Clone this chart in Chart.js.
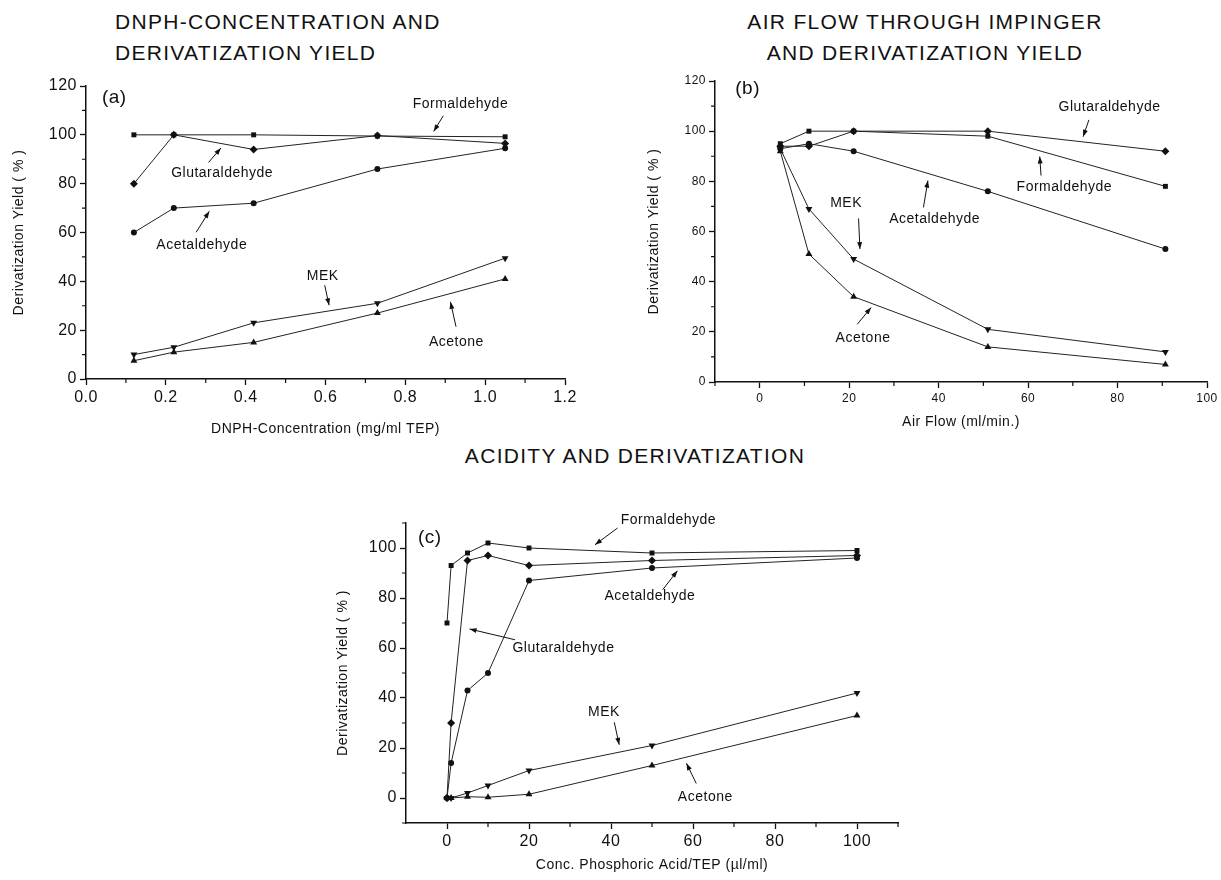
<!DOCTYPE html>
<html>
<head>
<meta charset="utf-8">
<script src="https://cdn.jsdelivr.net/npm/chart.js@4.4.0/dist/chart.umd.min.js"></script>
<style>
body{margin:0;background:#fff;width:1221px;height:880px;position:relative;overflow:hidden;
  font-family:"Liberation Sans",Arial,Helvetica,sans-serif;color:#111}
.box{position:absolute}
.ttl{position:absolute;font-size:21px;line-height:31px;letter-spacing:1.3px;white-space:nowrap}
</style>
</head>
<body>
<div class="ttl" style="left:115px;top:6px">DNPH-CONCENTRATION AND<br>DERIVATIZATION YIELD</div>
<div class="ttl" style="left:705px;top:6px;width:440px;text-align:center">AIR FLOW THROUGH IMPINGER<br>AND DERIVATIZATION YIELD</div>
<div class="ttl" style="left:435px;top:440px;width:400px;text-align:center">ACIDITY AND DERIVATIZATION</div>

<div class="box" style="left:0;top:70px;width:600px;height:370px"><canvas id="chartA"></canvas></div>
<div class="box" style="left:620px;top:60px;width:601px;height:380px"><canvas id="chartB"></canvas></div>
<div class="box" style="left:320px;top:480px;width:620px;height:400px"><canvas id="chartC"></canvas></div>

<script>
const FONT = '"Liberation Sans", Arial, Helvetica, sans-serif';

// (a) DNPH concentration (mg/ml TEP)
const dnphConc = [0.12, 0.22, 0.42, 0.73, 1.05];
const aFormaldehyde  = [100, 100, 100, 99.5, 99.2];
const aGlutaraldehyde = [80, 100, 94, 99.7, 96.5];
const aAcetaldehyde  = [60, 70, 72, 86, 94.5];
const aMEK           = [10, 13, 23, 31, 49.5];
const aAcetone       = [7.5, 11, 15, 27, 41];

// (b) air flow (ml/min.)
const airFlow = [4.6, 11, 21, 51, 90.7];
const bFormaldehyde  = [95, 100, 100, 98, 78];
const bGlutaraldehyde = [94, 94, 100, 100, 92];
const bAcetaldehyde  = [93, 95, 92, 76, 53];
const bMEK           = [93, 69, 49, 21, 12];
const bAcetone       = [92, 51, 34, 14, 7];

// (c) phosphoric acid (µl/ml)
const acidConc = [0, 1, 5, 10, 20, 50, 100];
const cFormaldehyde  = [70, 93, 98, 102, 100, 98, 99];
const cGlutaraldehyde = [0, 30, 95, 97, 93, 95, 97];
const cAcetaldehyde  = [0, 14, 43, 50, 87, 92, 96];
const cMEK           = [0, 0, 2, 5, 11, 21, 42];
const cAcetone       = [0, 0, 0.5, 0.3, 1.5, 13, 33];

// tick labels
const ticksAX = [0, 0.2, 0.4, 0.6, 0.8, 1.0, 1.2];
const minorAX = [0.1, 0.3, 0.5, 0.7, 0.9, 1.1];
const ticksY  = [0, 20, 40, 60, 80, 100, 120];
const minorY  = [10, 30, 50, 70, 90, 110];
const ticksBX = [0, 20, 40, 60, 80, 100];
const minorBX = [-10, 10, 30, 50, 70, 90];
const ticksCX = [0, 20, 40, 60, 80, 100];
const minorCX = [10, 30, 50, 70, 90, 110];
const ticksCY = [0, 20, 40, 60, 80, 100];
const minorCY = [-10, 10, 30, 50, 70, 90, 110];

const marker = {
  rect:    {pointStyle:'rect', pointRadius:3.5, pointRotation:0},
  rectRot: {pointStyle:'rectRot', pointRadius:4, pointRotation:0},
  circle:  {pointStyle:'circle', pointRadius:3, pointRotation:0},
  down:    {pointStyle:'triangle', pointRadius:4, pointRotation:180},
  up:      {pointStyle:'triangle', pointRadius:4, pointRotation:0}
};

function series(xs, ys, m){
  return Object.assign({
    data: xs.map((x,i)=>({x:x, y:ys[i]})),
    borderColor:'#222', backgroundColor:'#111', borderWidth:1,
    pointBorderWidth:0, pointHoverRadius:0, tension:0, clip:false
  }, marker[m]);
}

function axis(min, max, major, fmt, fsize, title, tpad, box){
  return {
    type:'linear', min:min, max:max,
    afterBuildTicks: s => { s.ticks = major.map(v=>({value:v})); },
    afterFit: s => { if (s.isHorizontal()) s.height = box; else s.width = box; },
    ticks:{autoSkip:false, maxRotation:0, padding:3, color:'#111',
      font:{size:fsize, family:FONT}, callback: v => fmt(v)},
    grid:{drawOnChartArea:false, drawTicks:true, tickLength:6, tickColor:'#111', tickWidth:1.3},
    border:{display:true, color:'#111', width:1.5},
    title:{display:true, text:title, color:'#111', font:{size:14, family:FONT}, padding:tpad}
  };
}

// scanned type is a little loosely spaced
const spacing = {
  id:'spacing',
  beforeLayout(chart){ chart.ctx.letterSpacing = '0.5px'; },
  beforeDraw(chart){ chart.ctx.letterSpacing = '0.5px'; }
};

// draws minor ticks, panel letter, labels with arrows
function notes(minX, minY, items){
  return {
    id:'notes',
    afterDraw(chart){
      const {ctx, chartArea:a, scales:{x, y}} = chart;
      ctx.save();
      ctx.strokeStyle = '#111'; ctx.lineWidth = 1.2;
      ctx.beginPath();
      minX.forEach(v => { const px = x.getPixelForValue(v); ctx.moveTo(px, a.bottom); ctx.lineTo(px, a.bottom+4); });
      minY.forEach(v => { const py = y.getPixelForValue(v); ctx.moveTo(a.left, py); ctx.lineTo(a.left-4, py); });
      ctx.stroke();
      ctx.fillStyle = '#111';
      ctx.textAlign = 'center'; ctx.textBaseline = 'middle';
      items.forEach(n => {
        ctx.font = (n.size || 14) + 'px ' + FONT;
        ctx.fillText(n.text, x.getPixelForValue(n.at[0]), y.getPixelForValue(n.at[1]));
        if (!n.from) return;
        const x1 = x.getPixelForValue(n.from[0]), y1 = y.getPixelForValue(n.from[1]);
        const x2 = x.getPixelForValue(n.to[0]), y2 = y.getPixelForValue(n.to[1]);
        const ang = Math.atan2(y2-y1, x2-x1);
        ctx.lineWidth = 1;
        ctx.beginPath(); ctx.moveTo(x1, y1); ctx.lineTo(x2, y2); ctx.stroke();
        ctx.beginPath();
        ctx.moveTo(x2, y2);
        ctx.lineTo(x2 - 7*Math.cos(ang) + 2.5*Math.sin(ang), y2 - 7*Math.sin(ang) - 2.5*Math.cos(ang));
        ctx.lineTo(x2 - 7*Math.cos(ang) - 2.5*Math.sin(ang), y2 - 7*Math.sin(ang) + 2.5*Math.cos(ang));
        ctx.closePath(); ctx.fill();
      });
      ctx.restore();
    }
  };
}

function makeChart(id, datasets, scales, padding, plugin){
  return new Chart(document.getElementById(id), {
    type:'line',
    data:{datasets:datasets},
    options:{
      responsive:true, maintainAspectRatio:false, animation:false,
      layout:{padding:padding},
      plugins:{legend:{display:false}, tooltip:{enabled:false}},
      events:[],
      scales:scales
    },
    plugins:[spacing, plugin]
  });
}

makeChart('chartA', [
    series(dnphConc, aFormaldehyde, 'rect'),
    series(dnphConc, aGlutaraldehyde, 'rectRot'),
    series(dnphConc, aAcetaldehyde, 'circle'),
    series(dnphConc, aMEK, 'down'),
    series(dnphConc, aAcetone, 'up')
  ], {
    x: axis(0, 1.2, ticksAX, v => v.toFixed(1), 16, 'DNPH-Concentration (mg/ml TEP)', {top:0, bottom:2}, 61),
    y: axis(0, 120, ticksY, v => v, 16, 'Derivatization Yield ( % )', {top:11, bottom:0}, 86)
  }, {top:16, right:35, left:0, bottom:0},
  notes(minorAX, minorY, [
    {text:'(a)', at:[0.071, 115], size:19},
    {text:'Formaldehyde', at:[0.938, 112.5], from:[0.895, 107.8], to:[0.871, 101.4]},
    {text:'Glutaraldehyde', at:[0.341, 84.4], from:[0.307, 88.7], to:[0.338, 94.6]},
    {text:'Acetaldehyde', at:[0.29, 55], from:[0.276, 60.1], to:[0.309, 68.7]},
    {text:'MEK', at:[0.593, 42], from:[0.598, 38.4], to:[0.609, 30.2]},
    {text:'Acetone', at:[0.928, 15.2], from:[0.927, 21.4], to:[0.913, 31.6]}
  ]));

makeChart('chartB', [
    series(airFlow, bFormaldehyde, 'rect'),
    series(airFlow, bGlutaraldehyde, 'rectRot'),
    series(airFlow, bAcetaldehyde, 'circle'),
    series(airFlow, bMEK, 'down'),
    series(airFlow, bAcetone, 'up')
  ], {
    x: axis(-10, 100, ticksBX, v => v, 12, 'Air Flow (ml/min.)', {top:0, bottom:9}, 58),
    y: axis(0, 120, ticksY, v => v, 12, 'Derivatization Yield ( % )', {top:26, bottom:0}, 95)
  }, {top:21, right:14, left:0, bottom:0},
  notes(minorBX, minorY, [
    {text:'(b)', at:[-2.7, 116.8], size:19},
    {text:'Glutaraldehyde', at:[78.2, 109.6], from:[73.6, 104.5], to:[72.3, 97.8]},
    {text:'Formaldehyde', at:[68.1, 77.6], from:[62.9, 82.3], to:[62.6, 89.9]},
    {text:'Acetaldehyde', at:[39.1, 65], from:[36.6, 69.6], to:[37.6, 80.3]},
    {text:'MEK', at:[19.3, 71.2], from:[22.1, 65.2], to:[22.4, 53]},
    {text:'Acetone', at:[23.1, 17.4], from:[21.8, 23], to:[24.9, 29.7]}
  ]));

makeChart('chartC', [
    series(acidConc, cFormaldehyde, 'rect'),
    series(acidConc, cGlutaraldehyde, 'rectRot'),
    series(acidConc, cAcetaldehyde, 'circle'),
    series(acidConc, cMEK, 'down'),
    series(acidConc, cAcetone, 'up')
  ], {
    x: axis(-10, 110, ticksCX, v => v, 16, 'Conc. Phosphoric Acid/TEP (\u00b5l/ml)', {top:0, bottom:6}, 57),
    y: axis(-10, 110, ticksCY, v => v, 16, 'Derivatization Yield ( % )', {top:15, bottom:0}, 86)
  }, {top:43, right:42, left:0, bottom:0},
  notes(minorCX, minorCY, [
    {text:'(c)', at:[-4.2, 104], size:19},
    {text:'Formaldehyde', at:[54, 111], from:[41.6, 108], to:[36.1, 101.3]},
    {text:'Acetaldehyde', at:[49.5, 80.7], from:[52.6, 83.3], to:[56.2, 90.9]},
    {text:'Glutaraldehyde', at:[28.4, 59.9], from:[16.6, 63.3], to:[5.5, 67.6]},
    {text:'MEK', at:[38.3, 34.3], from:[40.8, 30.3], to:[42, 21.3]},
    {text:'Acetone', at:[63, 0.5], from:[60.8, 5.8], to:[58.4, 13.9]}
  ]));
</script>
</body>
</html>
